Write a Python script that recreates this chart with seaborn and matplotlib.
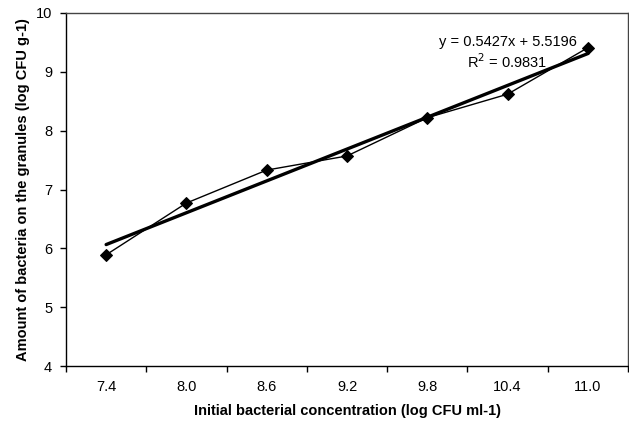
import numpy as np
import pandas as pd
import matplotlib
matplotlib.use("Agg")
import matplotlib.pyplot as plt
import seaborn as sns

# data
concentration = ["7.4", "8.0", "8.6", "9.2", "9.8", "10.4", "11.0"]
granule_count = [5.89, 6.77, 7.33, 7.57, 8.22, 8.62, 9.41]
equation_text = "y = 0.5427x + 5.5196"
r2_text = "R$^2$ = 0.9831"

df = pd.DataFrame({"idx": np.arange(len(concentration)), "count": granule_count})

sns.set_style("white")
plt.rcParams["font.family"] = ["Liberation Sans", "DejaVu Sans"]
plt.rcParams["text.color"] = "black"
plt.rcParams["axes.labelcolor"] = "black"
plt.rcParams["xtick.color"] = "black"
plt.rcParams["ytick.color"] = "black"

fig = plt.figure(figsize=(6.29, 4.23), dpi=100)
ax = fig.add_axes([66 / 629, 57 / 423, 562 / 629, 353 / 423])

# linear trendline (Excel style)
sns.regplot(data=df, x="idx", y="count", scatter=False, ci=None, ax=ax,
            line_kws={"color": "black", "lw": 2.4}, truncate=True)

sns.lineplot(data=df, x="idx", y="count", ax=ax, color="black", lw=1.0,
             marker="D", markersize=6, markeredgecolor="black")

ax.set_xlim(-0.5, len(concentration) - 0.5)
ax.set_ylim(4, 10)
ax.set_yticks(range(4, 11))
ax.set_yticklabels([str(v) for v in range(4, 11)], fontsize=10.5)

# category axis: tick marks between categories, labels centred
ax.set_xticks(np.arange(-0.5, len(concentration), 1.0))
ax.set_xticklabels([""] * (len(concentration) + 1))
ax.set_xticks(np.arange(len(concentration)), minor=True)
ax.set_xticklabels(concentration, minor=True, fontsize=10.5)
ax.tick_params(axis="x", which="major", direction="out", length=4, width=1, bottom=True)
ax.tick_params(axis="x", which="minor", length=0, pad=10)
ax.tick_params(axis="y", direction="out", length=4, width=1, left=True, pad=6)

for side in ["left", "bottom"]:
    ax.spines[side].set_color("black")
    ax.spines[side].set_linewidth(1.0)
for side in ["top", "right"]:
    ax.spines[side].set_color("#444444")
    ax.spines[side].set_linewidth(1.0)

ax.set_xlabel("Initial bacterial concentration (log CFU ml-1)", fontsize=10.5,
              fontweight="bold", labelpad=7)
ax.set_ylabel("Amount of bacteria on the granules (log CFU g-1)", fontsize=10.5,
              fontweight="bold", labelpad=4)

ax.text(5.0, 9.51, equation_text, ha="center", va="center", fontsize=10.5)
ax.text(5.0, 9.17, r2_text, ha="center", va="center", fontsize=10.5)

fig.savefig("out.png", dpi=100)
